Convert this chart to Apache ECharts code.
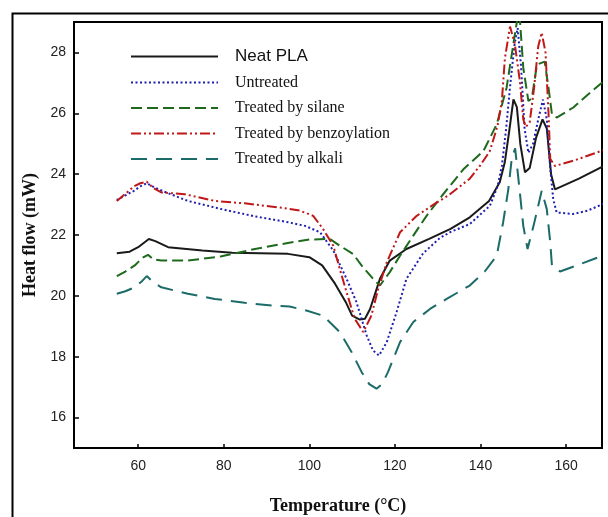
<!DOCTYPE html>
<html>
<head>
<meta charset="utf-8">
<script src="https://cdn.jsdelivr.net/npm/echarts@6/dist/echarts.min.js"></script>
<style>
  html, body { margin: 0; padding: 0; background: #fff; }
  #chart { width: 608px; height: 517px; }
</style>
</head>
<body>
<div id="chart"></div>
<script>
var xTicks = [60, 80, 100, 120, 140, 160];
var yTicks = [16, 18, 20, 22, 24, 26, 28];
var seriesNames = ['Neat PLA', 'Untreated', 'Treated by silane', 'Treated by benzoylation', 'Treated by alkali'];

var neatPla = [[55,21.4],[58,21.45],[60,21.6],[62.5,21.87],[64,21.8],[67,21.6],[75,21.49],[82,21.42],[95,21.38],[100,21.27],[103,21.0],[106,20.4],[108.5,19.8],[110,19.35],[111.8,19.22],[113,19.25],[114.2,19.57],[116.5,20.56],[118.8,21.16],[122.7,21.54],[128,21.87],[133,22.2],[137.5,22.58],[142,23.12],[144.5,23.73],[145.7,24.4],[146.8,25.5],[147.7,26.46],[148.5,26.2],[149.3,25.0],[150.4,24.06],[151.5,24.2],[153,25.2],[154.5,25.8],[155.5,25.5],[156.5,24],[157.4,23.5],[163,23.85],[170,24.35]];
var untreated = [[55,23.15],[57,23.3],[59,23.45],[60.5,23.6],[62,23.7],[64,23.55],[66,23.43],[71.6,23.12],[79.5,22.85],[87.3,22.61],[94.3,22.44],[99,22.3],[102.5,22.09],[105.6,21.49],[108.7,20.56],[111,19.8],[113.4,18.7],[114.9,18.2],[116.3,18.04],[118.1,18.48],[120.4,19.47],[122.7,20.56],[126.6,21.4],[130.5,21.9],[133,22.1],[137.5,22.36],[142.2,22.96],[144,23.6],[145,24.27],[146,25.5],[147,27],[148,28.3],[148.7,28.8],[149.5,27.5],[150.3,25.5],[151.2,24.7],[152.3,25.0],[153.5,25.8],[154.6,26.45],[155.5,25.8],[156.3,24.2],[157,23.18],[157.8,22.74],[161.6,22.69],[165,22.8],[170,23.1]];
var silane = [[55,20.65],[57,20.8],[59.2,21.0],[61,21.25],[62.3,21.35],[63.5,21.2],[65.4,21.16],[71.6,21.16],[79.5,21.3],[87.3,21.54],[95,21.74],[100,21.85],[104.8,21.87],[107.1,21.65],[110.2,21.38],[112.2,21.0],[114.9,20.56],[116.5,20.34],[118.8,20.78],[121.2,21.32],[124.3,21.98],[127.4,22.63],[131,23.29],[136,24.16],[140.7,24.76],[143.8,25.64],[146.1,26.84],[147.3,27.93],[148.5,29.0],[149.1,29.3],[150,27.5],[151.2,26.4],[152,26.5],[153.2,27.6],[155,27.7],[155.9,26.84],[156.7,25.97],[157.8,25.86],[161.7,26.19],[165,26.6],[170,27.2]];
var benzoylation = [[55,23.12],[57,23.35],[59,23.6],[60.5,23.7],[62,23.75],[63.5,23.55],[65.4,23.4],[70.9,23.34],[77.9,23.12],[84.9,23.04],[94.3,22.88],[97.8,22.8],[100.9,22.63],[103.2,22.2],[105.6,21.65],[107.1,20.89],[108.7,20.12],[110.6,19.25],[112.6,18.81],[114.5,19.35],[116.1,20.23],[118.1,21.1],[121.2,22.09],[125.1,22.63],[129.8,23.07],[132.5,23.3],[137.5,23.85],[140,24.3],[142.2,24.76],[144,25.6],[145,26.4],[145.7,27.8],[146.9,28.85],[148,28.3],[149.2,27.06],[150,25.8],[150.6,25.55],[151.5,25.7],[152.5,26.8],[153.5,28.2],[154.3,28.65],[155.2,28],[155.9,26],[156.3,24.5],[157.4,24.27],[161.7,24.44],[170,24.85]];
var alkali = [[55,20.07],[57,20.15],[59.2,20.28],[61,20.5],[62,20.65],[63.5,20.45],[65.4,20.28],[71.6,20.07],[77.9,19.9],[84.9,19.77],[91.2,19.68],[95.4,19.65],[99.3,19.52],[103.2,19.35],[107.1,18.81],[109.9,18.15],[112.2,17.5],[114,17.1],[115.7,16.95],[117,17.1],[118.4,17.5],[121.2,18.48],[124.3,19.14],[128.2,19.57],[132.1,19.9],[137.5,20.34],[141,20.8],[143.8,21.32],[145.3,22.42],[146.5,23.5],[147.3,24.5],[148.1,24.85],[149.2,23.4],[150,22.3],[151,21.54],[152.4,22.3],[153.5,22.96],[154.3,23.45],[155.5,22.85],[156.3,21.76],[156.7,21.0],[158.6,20.8],[162.5,21.0],[170,21.4]];

var chart = echarts.init(document.getElementById('chart'), null, { renderer: 'canvas' });

var lineStyles = [
  { color: '#1a1a1a', width: 2, type: 'solid' },
  { color: '#1f1fb0', width: 2, type: [2, 2.5] },
  { color: '#1d6a1d', width: 2, type: [11, 5] },
  { color: '#c01818', width: 2, type: [10, 3, 2, 3, 2, 3] },
  { color: '#1b6b68', width: 2, type: [16, 9] }
];
var datasets = [neatPla, untreated, silane, benzoylation, alkali];

var series = seriesNames.map(function(name, i) {
  return {
    name: name,
    type: 'line',
    symbol: 'none',
    data: datasets[i],
    lineStyle: lineStyles[i],
    itemStyle: { color: lineStyles[i].color },
    animation: false
  };
});

var axisText = {
  color: '#222',
  fontFamily: 'Liberation Sans',
  fontSize: 14
};

chart.setOption({
  animation: false,
  graphic: [{
    type: 'rect',
    left: 10,
    top: 11,
    shape: { width: 700, height: 600 },
    style: { fill: 'none', stroke: '#000', lineWidth: 2 },
    z: -1
  }],
  grid: {
    left: 74,
    right: 6,
    top: 22,
    bottom: 69,
    outerBoundsMode: 'none',
    show: true,
    borderColor: '#000',
    borderWidth: 2
  },
  legend: {
    orient: 'vertical',
    left: 125,
    top: 43,
    itemWidth: 87,
    itemHeight: 14,
    itemGap: 9.5,
    selectedMode: false,
    data: seriesNames,
    itemStyle: { opacity: 0 },
    formatter: function(name) {
      return name === 'Neat PLA' ? '{s|}{a|' + name + '}' : '{s|}{b|' + name + '}';
    },
    textStyle: {
      color: '#111',
      rich: {
        s: { width: 12 },
        a: { fontFamily: 'Liberation Sans', fontSize: 17, lineHeight: 16, color: '#111' },
        b: { fontFamily: 'Liberation Serif', fontSize: 16, lineHeight: 16, color: '#111' }
      }
    }
  },
  xAxis: {
    type: 'value',
    min: 45,
    max: 168.4,
    name: 'Temperature (°C)',
    nameLocation: 'middle',
    nameGap: 49,
    nameTextStyle: {
      color: '#111',
      fontFamily: 'Liberation Serif',
      fontWeight: 'bold',
      fontSize: 18
    },
    axisLine: { lineStyle: { color: '#000', width: 2 } },
    axisTick: { inside: true, length: 4, lineStyle: { color: '#000', width: 1.5 }, customValues: xTicks },
    axisLabel: Object.assign({ margin: 11, customValues: xTicks }, axisText),
    splitLine: { show: false }
  },
  yAxis: {
    type: 'value',
    min: 15,
    max: 29,
    name: 'Heat flow (mW)',
    nameLocation: 'middle',
    nameGap: 34,
    nameTextStyle: {
      color: '#111',
      fontFamily: 'Liberation Serif',
      fontWeight: 'bold',
      fontSize: 18
    },
    axisLine: { lineStyle: { color: '#000', width: 2 } },
    axisTick: { inside: true, length: 5, lineStyle: { color: '#000', width: 1.5 }, customValues: yTicks },
    axisLabel: Object.assign({ margin: 8, customValues: yTicks }, axisText),
    splitLine: { show: false }
  },
  series: series
});
</script>
</body>
</html>
